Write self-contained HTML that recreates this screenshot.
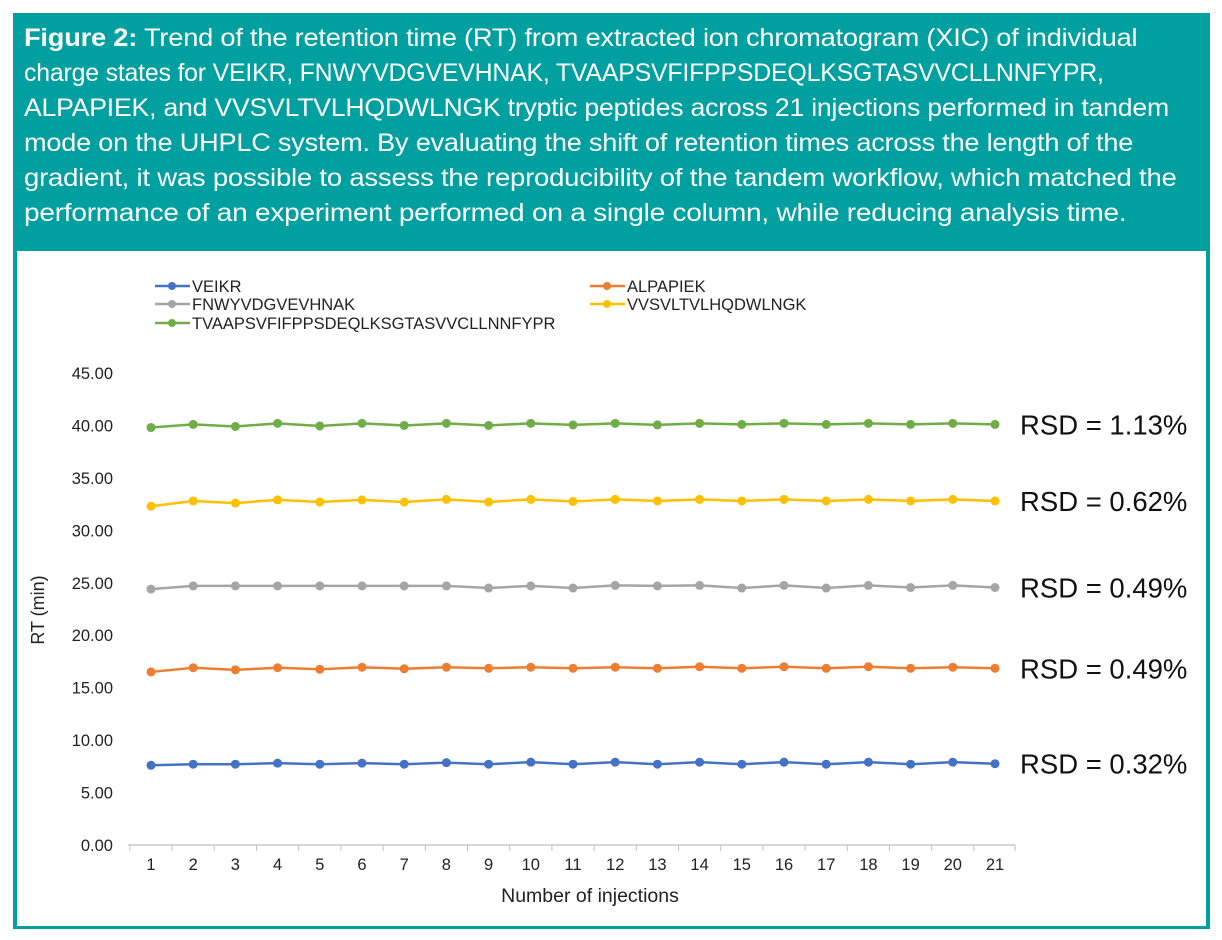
<!DOCTYPE html>
<html><head><meta charset="utf-8"><style>
body{margin:0;width:1222px;height:940px;background:#fff;font-family:"Liberation Sans",sans-serif;position:relative;overflow:hidden}
#frame{position:absolute;left:13px;top:13px;width:1197px;height:916px;background:#009fa0}
#cap{position:absolute;left:24px;top:21px;color:#fff;font-size:25px;line-height:35px;letter-spacing:-0.2px}
#cap div{white-space:nowrap;transform-origin:left center}
#panel{position:absolute;left:17px;top:251px;width:1189px;height:675px;background:#fff}
</style></head><body>
<div id="frame"></div>
<div id="cap">
<div style="transform:scaleX(1.09)"><b>Figure 2:</b> Trend of the retention time (RT) from extracted ion chromatogram (XIC) of individual</div>
<div style="transform:scaleX(0.995)">charge states for VEIKR, FNWYVDGVEVHNAK, TVAAPSVFIFPPSDEQLKSGTASVVCLLNNFYPR,</div>
<div style="transform:scaleX(1.065)">ALPAPIEK, and VVSVLTVLHQDWLNGK tryptic peptides across 21 injections performed in tandem</div>
<div style="transform:scaleX(1.085)">mode on the UHPLC system. By evaluating the shift of retention times across the length of the</div>
<div style="transform:scaleX(1.10)">gradient, it was possible to assess the reproducibility of the tandem workflow, which matched the</div>
<div style="transform:scaleX(1.12)">performance of an experiment performed on a single column, while reducing analysis time.</div>
</div>
<div id="panel"></div>
<svg id="chart" width="1222" height="940" style="position:absolute;left:0;top:0"></svg>
<script>
const injections=[1,2,3,4,5,6,7,8,9,10,11,12,13,14,15,16,17,18,19,20,21];
const yTicks=[0,5,10,15,20,25,30,35,40,45];
const seriesNames=["VEIKR","FNWYVDGVEVHNAK","TVAAPSVFIFPPSDEQLKSGTASVVCLLNNFYPR","ALPAPIEK","VVSVLTVLHQDWLNGK"];
const veikr=[7.6,7.7,7.7,7.8,7.7,7.8,7.7,7.85,7.7,7.9,7.7,7.9,7.7,7.9,7.7,7.9,7.7,7.9,7.7,7.9,7.75];
const fnwy=[24.4,24.7,24.7,24.7,24.7,24.7,24.7,24.7,24.5,24.7,24.5,24.75,24.7,24.75,24.5,24.75,24.5,24.75,24.55,24.75,24.55];
const tvaap=[39.8,40.1,39.9,40.2,39.95,40.2,40.0,40.2,40.0,40.2,40.05,40.2,40.05,40.2,40.1,40.2,40.1,40.2,40.1,40.2,40.1];
const alpa=[16.5,16.9,16.7,16.9,16.75,16.95,16.8,16.95,16.85,16.95,16.85,16.95,16.85,17.0,16.85,17.0,16.85,17.0,16.85,16.95,16.85];
const vvsv=[32.3,32.8,32.6,32.9,32.7,32.9,32.7,32.95,32.7,32.95,32.75,32.95,32.8,32.95,32.8,32.95,32.8,32.95,32.8,32.95,32.8];
const rsdLabels=["RSD = 0.32%","RSD = 0.49%","RSD = 1.13%","RSD = 0.49%","RSD = 0.62%"];
const colors=["#4472c4","#a5a5a5","#70ad47","#ed7d31","#ffc000"];
const allSeries=[veikr,fnwy,tvaap,alpa,vvsv];
const NS="http://www.w3.org/2000/svg";
const svg=document.getElementById('chart');
function mk(t,a,p){const e=document.createElementNS(NS,t);for(const k in a)e.setAttribute(k,a[k]);(p||svg).appendChild(e);return e;}
const x=i=>151+(i-1)*(995-151)/20;
const y=v=>845-v*(472/45);
let ax=mk('line',{x1:128,x2:1015,y1:y(0),y2:y(0),stroke:'#bfbfbf','stroke-width':1.2});


yTicks.forEach(t=>{
  const l=mk('text',{x:113,y:y(t)+6,'text-anchor':'end','font-size':16.5,fill:'#222'});
  l.textContent=t.toFixed(2);
  
  
});
injections.forEach((n,i)=>{
  const tx=x(n)-21.1;
  const tk=mk('line',{x1:tx,x2:tx,y1:y(0),y2:y(0)+6,stroke:'#bfbfbf'});
  
  
  const l=mk('text',{x:x(n),y:y(0)+25,'text-anchor':'middle','font-size':16.5,fill:'#222'});
  l.textContent=n;
  
  
});
const lastTk=mk('line',{x1:1015,x2:1015,y1:y(0),y2:y(0)+6,stroke:'#bfbfbf'});


let yt=mk('text',{x:44,y:610,'text-anchor':'middle','font-size':18,fill:'#222',transform:'rotate(-90 44 610)'});
yt.textContent='RT (min)';


let xt=mk('text',{x:590,y:902,'text-anchor':'middle','font-size':19.5,fill:'#222'});
xt.textContent='Number of injections';


allSeries.forEach((s,k)=>{
  const g=mk('g',{});
  
  
  mk('polyline',{points:s.map((v,i)=>x(injections[i])+','+y(v)).join(' '),fill:'none',stroke:colors[k],'stroke-width':2.5},g);
  s.forEach((v,i)=>{
    const c=mk('circle',{cx:x(injections[i]),cy:y(v),r:4.5,fill:colors[k]},g);
    
    
  });
  const r=mk('text',{x:1020,y:y(s[s.length-1])+10,'font-size':27.5,fill:'#111'});
  r.textContent=rsdLabels[k];
  
  
});
const legPos=[[155,286],[155,304],[155,323],[590,286],[590,304]];
seriesNames.forEach((n,k)=>{
  const g=mk('g',{});
  
  
  const [lx,ly]=legPos[k];
  mk('line',{x1:lx,x2:lx+35,y1:ly,y2:ly,stroke:colors[k],'stroke-width':2.5},g);
  mk('circle',{cx:lx+17,cy:ly,r:4,fill:colors[k]},g);
  const t=mk('text',{x:lx+37,y:ly+6,'font-size':16.5,fill:'#222'},g);
  t.textContent=n;
});
</script>
</body></html>
